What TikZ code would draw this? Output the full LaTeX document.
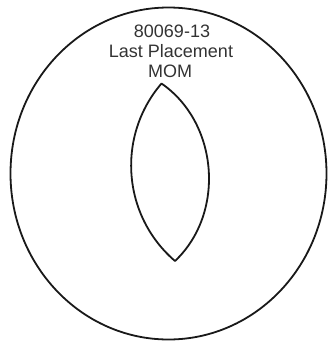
\documentclass[tikz,border=0pt]{standalone}
\usepackage{fontspec}
\setmainfont{Liberation Sans}
\begin{document}
\begin{tikzpicture}[x=1pt,y=-1pt,
  outline/.style={draw=black!90,line width=1.8pt,line join=round},
  label/.style={inner sep=0pt,anchor=base,text=black!80,font=\fontsize{18}{20}\selectfont}]
\useasboundingbox (0,0) rectangle (327,343);
\draw[outline] (168.5,173.5) ellipse [x radius=158, y radius=166];
\coordinate (top) at (161.5,83.5);
\coordinate (bot) at (175,261);
\draw[outline] (top) to[bend left=51] (bot) to[bend left=45] (top) -- cycle;
\node[label] (l1) at (172,37.5) {80069-13};
\node[label] (l2) at (171,57.3) {Last Placement};
\node[label] (l3) at (170,77.3) {MOM};
\end{tikzpicture}
\end{document}
